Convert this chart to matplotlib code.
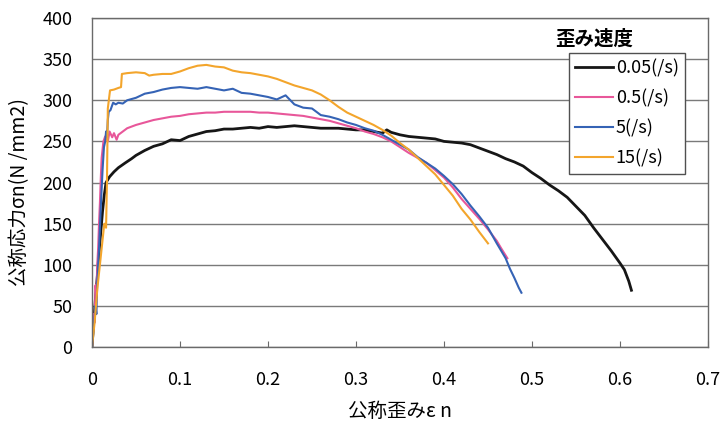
import matplotlib
matplotlib.use("Agg")
import matplotlib.pyplot as plt

plt.rcParams["font.family"] = ["Noto Sans CJK JP", "DejaVu Sans"]

# nominal strain / nominal stress for each strain rate
strain_005 = [0, 0.002, 0.004, 0.006, 0.008, 0.010, 0.012, 0.014, 0.016, 0.02,
              0.025, 0.03, 0.038, 0.045, 0.05, 0.06, 0.07, 0.08, 0.09, 0.1,
              0.11, 0.12, 0.13, 0.14, 0.15, 0.16, 0.17, 0.18, 0.19, 0.2,
              0.21, 0.22, 0.23, 0.24, 0.25, 0.26, 0.27, 0.28, 0.29, 0.3,
              0.31, 0.32, 0.33, 0.335, 0.34, 0.35, 0.36, 0.37, 0.38, 0.39,
              0.4, 0.41, 0.42, 0.43, 0.44, 0.45, 0.46, 0.47, 0.48, 0.49,
              0.5, 0.51, 0.52, 0.53, 0.54, 0.55, 0.56, 0.57, 0.58, 0.59,
              0.6, 0.605, 0.61, 0.613]
stress_005 = [0, 30, 60, 85, 115, 140, 165, 185, 200, 207,
              213, 218, 224, 229, 233, 239, 244, 247, 252, 251,
              256, 259, 262, 263, 265, 265, 266, 267, 266, 268,
              267, 268, 269, 268, 267, 266, 266, 266, 265, 264,
              264, 262, 260, 264, 261, 258, 256, 255, 254, 253,
              250, 249, 248, 246, 242, 238, 234, 229, 225, 220,
              212, 205, 197, 190, 182, 171, 160, 145, 131, 117,
              102, 94, 80, 69]

strain_05 = [0, 0.002, 0.003, 0.004, 0.005, 0.006, 0.007, 0.008, 0.009, 0.010,
             0.011, 0.013, 0.015, 0.018, 0.02, 0.023, 0.025, 0.028, 0.03, 0.035,
             0.04, 0.05, 0.06, 0.07, 0.08, 0.09, 0.1, 0.11, 0.12, 0.13,
             0.14, 0.15, 0.16, 0.17, 0.18, 0.19, 0.2, 0.21, 0.22, 0.23,
             0.24, 0.25, 0.26, 0.27, 0.28, 0.29, 0.3, 0.31, 0.32, 0.33,
             0.34, 0.35, 0.36, 0.37, 0.38, 0.39, 0.4, 0.41, 0.42, 0.43,
             0.44, 0.45, 0.46, 0.465, 0.472]
stress_05 = [0, 40, 30, 75, 60, 100, 120, 150, 175, 205,
             230, 250, 256, 250, 262, 255, 260, 252, 258, 262,
             266, 270, 273, 276, 278, 280, 281, 283, 284, 285,
             285, 286, 286, 286, 286, 285, 285, 284, 283, 282,
             281, 279, 277, 275, 272, 269, 266, 262, 259, 255,
             250, 243, 236, 230, 224, 215, 206, 194, 180, 168,
             156, 143, 129, 120, 108]

strain_5 = [0, 0.002, 0.004, 0.005, 0.006, 0.008, 0.010, 0.012, 0.0136, 0.015,
            0.016, 0.017, 0.018, 0.019, 0.021, 0.024, 0.027, 0.03, 0.035, 0.04,
            0.05, 0.06, 0.07, 0.08, 0.09, 0.1, 0.11, 0.12, 0.13, 0.14,
            0.15, 0.16, 0.17, 0.18, 0.19, 0.2, 0.21, 0.22, 0.23, 0.24,
            0.25, 0.26, 0.27, 0.28, 0.29, 0.3, 0.31, 0.32, 0.33, 0.34,
            0.35, 0.36, 0.37, 0.38, 0.39, 0.4, 0.41, 0.42, 0.43, 0.44,
            0.45, 0.46, 0.47, 0.475, 0.48, 0.485, 0.488]
stress_5 = [0, 25, 50, 40, 80, 120, 170, 215, 243, 250,
            262, 255, 276, 286, 288, 297, 295, 297, 296, 300,
            303, 308, 310, 313, 315, 316, 315, 314, 316, 314,
            312, 314, 309, 308, 306, 304, 301, 306, 295, 291,
            290, 282, 280, 277, 273, 270, 266, 263, 258, 252,
            246, 240, 231, 224, 217, 208, 198, 186, 172, 159,
            145, 126, 108, 95, 84, 72, 66]

strain_15 = [0, 0.003, 0.006, 0.009, 0.012, 0.014, 0.016, 0.017, 0.018, 0.0205,
             0.025, 0.03, 0.033, 0.034, 0.04, 0.05, 0.06, 0.065, 0.07, 0.08,
             0.09, 0.1, 0.11, 0.12, 0.13, 0.14, 0.15, 0.16, 0.17, 0.18,
             0.19, 0.2, 0.21, 0.22, 0.23, 0.24, 0.25, 0.26, 0.27, 0.28,
             0.29, 0.3, 0.31, 0.32, 0.33, 0.34, 0.35, 0.36, 0.37, 0.38,
             0.39, 0.4, 0.41, 0.42, 0.43, 0.44, 0.45]
stress_15 = [0, 30, 70, 100, 130, 150, 145, 200, 290, 312,
             313, 315, 316, 332, 333, 334, 333, 330, 331, 332,
             332, 335, 339, 342, 343, 341, 340, 336, 334, 333,
             331, 329, 326, 322, 318, 315, 312, 307, 300, 292,
             285, 280, 275, 270, 264, 257, 248, 240, 230, 220,
             210, 197, 184, 168, 155, 140, 126]

labels = ["0.05(/s)", "0.5(/s)", "5(/s)", "15(/s)"]
colors = ["#161616", "#e8579a", "#3563b5", "#f3a52c"]
widths = [2.0, 1.5, 1.5, 1.5]
series = [(strain_005, stress_005), (strain_05, stress_05),
          (strain_5, stress_5), (strain_15, stress_15)]

fig = plt.figure(figsize=(7.22, 4.25), dpi=100)
ax = fig.add_axes([0.1274, 0.1835, 0.8532, 0.7741])

for (x, y), lab, c, lw in zip(series, labels, colors, widths):
    ax.plot(x, y, color=c, lw=lw, label=lab)

ax.set_xlim(0, 0.7)
ax.set_ylim(0, 400)
ax.set_xticks([0, 0.1, 0.2, 0.3, 0.4, 0.5, 0.6, 0.7])
ax.set_xticklabels(["0", "0.1", "0.2", "0.3", "0.4", "0.5", "0.6", "0.7"])
ax.set_yticks(range(0, 401, 50))
ax.grid(axis="y", color="#7a7a7a", lw=1.0)
ax.set_axisbelow(True)
for s in ax.spines.values():
    s.set_color("#6a6a6a")
    s.set_linewidth(1.0)
ax.tick_params(axis="x", direction="in", length=4, color="#6a6a6a",
               labelsize=13, pad=17)
ax.tick_params(axis="y", length=0, labelsize=13, pad=14)

ax.set_xlabel("公称歪みε n", fontsize=14, labelpad=9)
ax.set_ylabel("公称応力σn(N /mm2)", fontsize=14)
ax.yaxis.set_label_coords(-0.10, 0.47)

leg = ax.legend(loc="upper left", bbox_to_anchor=(0.774, 0.894),
                fontsize=13, frameon=True, fancybox=False, framealpha=1,
                edgecolor="#505050", handlelength=2.1, handletextpad=0.15,
                labelspacing=0.65, borderpad=0.35, borderaxespad=0)
leg.get_frame().set_linewidth(1.0)

ax.text(0.752, 0.935, "歪み速度", transform=ax.transAxes, fontsize=14,
        fontweight="bold", va="center", ha="left")

fig.savefig("out.png", dpi=100)
